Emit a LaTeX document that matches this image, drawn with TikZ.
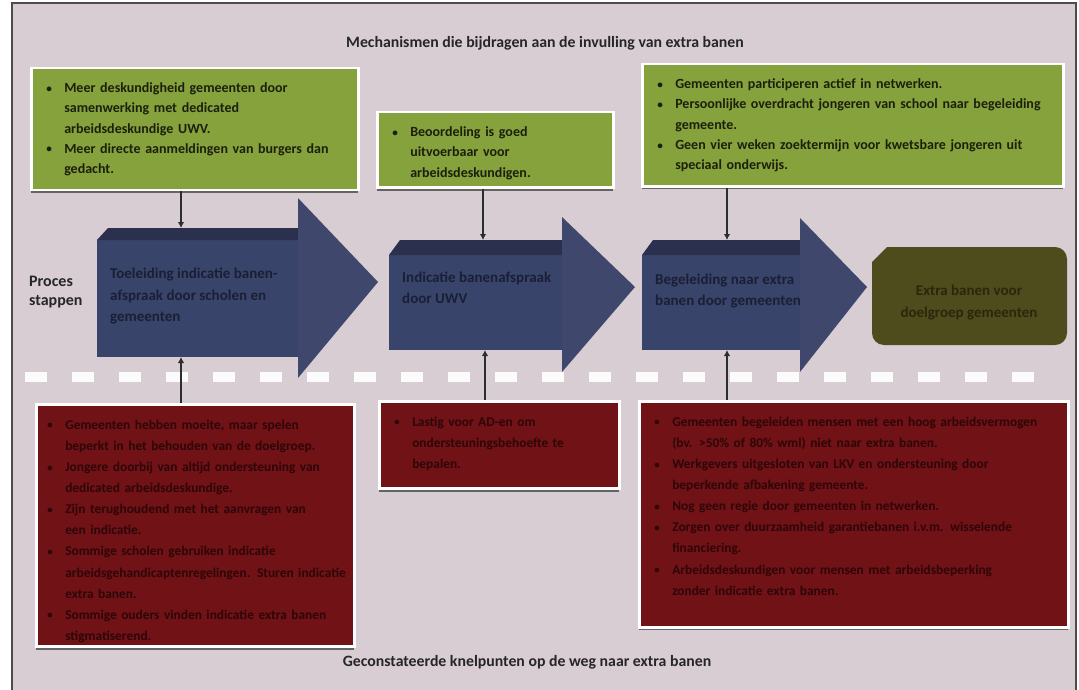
\documentclass[tikz,border=0pt]{standalone}
\usepackage{fontspec}
\setmainfont{Carlito}
\usetikzlibrary{shadows,arrows.meta}
\definecolor{bgc}{HTML}{D9CDD4}
\definecolor{grn}{HTML}{86A23C}
\definecolor{redbox}{HTML}{701216}
\definecolor{bfront}{HTML}{38446A}
\definecolor{bband}{HTML}{2A304E}
\definecolor{bhead}{HTML}{3F486C}
\definecolor{olivebox}{HTML}{4E4B1C}
\definecolor{gtext}{HTML}{1C1F0C}
\definecolor{rtext}{HTML}{2E0608}
\definecolor{btext}{HTML}{1A1F35}
\definecolor{otext}{HTML}{2A280C}
\definecolor{conncol}{HTML}{2D2D2D}
\newcommand\itm{\par\hangindent=18pt\hangafter=1\noindent\makebox[18pt][l]{\raisebox{0.5pt}{\scalebox{0.8}{\textbullet}}}}
\newcommand\nl{\newline}
\tikzset{
  box/.style={anchor=north west, draw=white, line width=2.5pt, inner xsep=15pt, inner ysep=4pt,
    drop shadow={shadow xshift=0pt, shadow yshift=-3pt, fill=black!65, opacity=0.9}},
  gbox/.style={box, fill=grn, text=gtext, font=\bfseries\fontsize{14}{20.3}\selectfont\raggedright},
  rbox/.style={box, fill=redbox, text=rtext, font=\bfseries\fontsize{13.4}{21.1}\selectfont\raggedright},
  conn/.style={draw=conncol, line width=2.8pt, -{Latex[length=6pt,width=6.5pt]}},
  lbl/.style={inner sep=0pt, font=\bfseries\fontsize{15.8}{19}\selectfont, text=black!85},
  atext/.style={inner sep=0pt, anchor=west, align=left, text=btext, font=\bfseries\fontsize{15}{21.5}\selectfont},
}
\begin{document}
\begin{tikzpicture}[x=1pt,y=-1pt]
\useasboundingbox (0,0) rectangle (1079,690);
% background and frame
\fill[white] (0,0) rectangle (1079,690);
\fill[bgc] (12,3) rectangle (1076,690);
\draw[gray!60!black, line width=1.2pt] (12,690) -- (12,3) -- (1076,3) -- (1076,690);

% titles
\node[lbl] (title) at (545,43) {Mechanismen die bijdragen aan de invulling van extra banen};
\node[lbl] (footer) at (527,662) {Geconstateerde knelpunten op de weg naar extra banen};
\node[lbl, anchor=west, align=left, font=\bfseries\fontsize{16}{19}\selectfont] (proces) at (29,292) {Proces\\stappen};

% dashed separator
\draw[white!92!bgc, line width=10pt, dash pattern=on 22pt off 25pt] (25,377) -- (1045,377);

% arrow 1
\fill[bfront] (97,240) rectangle (298,357);
\fill[bband] (97,240) -- (108,228) -- (298,228) -- (298,240) -- cycle;
\fill[bhead] (298,198) -- (378,282) -- (298,378) -- cycle;
% arrow 2
\fill[bfront] (389,255) rectangle (562,350);
\fill[bband] (389,255) -- (400,240) -- (562,240) -- (562,255) -- cycle;
\fill[bhead] (562,217) -- (635,287) -- (562,372) -- cycle;
% arrow 3
\fill[bfront] (642,255) rectangle (800,350);
\fill[bband] (642,255) -- (653,240) -- (800,240) -- (800,255) -- cycle;
\fill[bhead] (800,218) -- (867,287) -- (800,372) -- cycle;
% result box
\fill[olivebox] (872,262) -- (887,247) -- (1055,247) to[out=0,in=90] (1067,259) -- (1067,333) to[out=-90,in=0] (1055,345) -- (884,345) to[out=180,in=-90] (872,333) -- cycle;

\node[atext] (s1) at (110,296) {Toeleiding indicatie banen-\\afspraak door scholen en\\gemeenten};
\node[atext] (s2) at (402,288) {Indicatie banenafspraak\\door UWV};
\node[atext] (s3) at (655,291) {Begeleiding naar extra\\banen door gemeenten};
\node[inner sep=0pt, align=center, text=otext, font=\bfseries\fontsize{15}{22}\selectfont] (s4) at (969,303) {Extra banen voor\\doelgroep gemeenten};

\coordinate (a1t) at (181,228); \coordinate (a1b) at (181,357);
\coordinate (a2t) at (483,240); \coordinate (a2b) at (485,350);
\coordinate (a3t) at (727,240); \coordinate (a3b) at (727,350);

% green boxes
\node[gbox, text width=297pt, minimum width=327pt, minimum height=118pt] (g1) at (30,67) {%
\itm Meer deskundigheid gemeenten door\nl samenwerking met dedicated\nl arbeidsdeskundige UWV.
\itm Meer directe aanmeldingen van burgers dan\nl gedacht.\par\vspace*{10pt}};
\node[gbox, text width=206pt, minimum width=236pt, minimum height=69pt] (g2) at (376,111) {%
\itm Beoordeling is goed\nl uitvoerbaar voor\nl arbeidsdeskundigen.\par\vspace*{4pt}};
\node[gbox, text width=391pt, minimum width=421pt, minimum height=122pt] (g3) at (641,63) {%
\itm Gemeenten participeren actief in netwerken.
\itm Persoonlijke overdracht jongeren van school naar begeleiding\nl gemeente.
\itm Geen vier weken zoektermijn voor kwetsbare jongeren uit\nl speciaal onderwijs.\par\vspace*{10pt}};

% red boxes
\node[rbox, text width=296pt, minimum width=318pt, minimum height=237pt, inner xsep=11pt] (r1) at (35,403) {%
\itm Gemeenten hebben moeite, maar spelen\nl beperkt in het behouden van de doelgroep.
\itm Jongere doorbij van altijd ondersteuning van\nl dedicated arbeidsdeskundige.
\itm Zijn terughoudend met het aanvragen van\nl een indicatie.
\itm Sommige scholen gebruiken indicatie\nl \mbox{arbeidsgehandicaptenregelingen. Sturen indicatie}\nl extra banen.
\itm Sommige ouders vinden indicatie extra banen\nl stigmatiserend.\par};
\node[rbox, text width=210pt, minimum width=240pt, minimum height=87pt] (r2) at (378,400) {%
\itm Lastig voor AD-en om\nl ondersteuningsbehoefte te\nl bepalen.\par\vspace*{14pt}};
\node[rbox, text width=399pt, minimum width=429pt, minimum height=225pt] (r3) at (638,400) {%
\itm Gemeenten begeleiden mensen met een hoog arbeidsvermogen\nl (bv. {>}50\% of 80\% wml) niet naar extra banen.
\itm Werkgevers uitgesloten van LKV en ondersteuning door\nl beperkende afbakening gemeente.
\itm Nog geen regie door gemeenten in netwerken.
\itm Zorgen over duurzaamheid garantiebanen i.v.m. wisselende\nl financiering.
\itm Arbeidsdeskundigen voor mensen met arbeidsbeperking\nl zonder indicatie extra banen.\par\vspace*{28pt}};

% connectors
\draw[conn] (g1.south -| a1t) -- (a1t);
\draw[conn] (g2.south -| a2t) -- (a2t);
\draw[conn] (g3.south -| a3t) -- (a3t);
\draw[conn] (r1.north -| a1b) -- (a1b);
\draw[conn] (r2.north -| a2b) -- (a2b);
\draw[conn] (r3.north -| a3b) -- (a3b);
\end{tikzpicture}
\end{document}
